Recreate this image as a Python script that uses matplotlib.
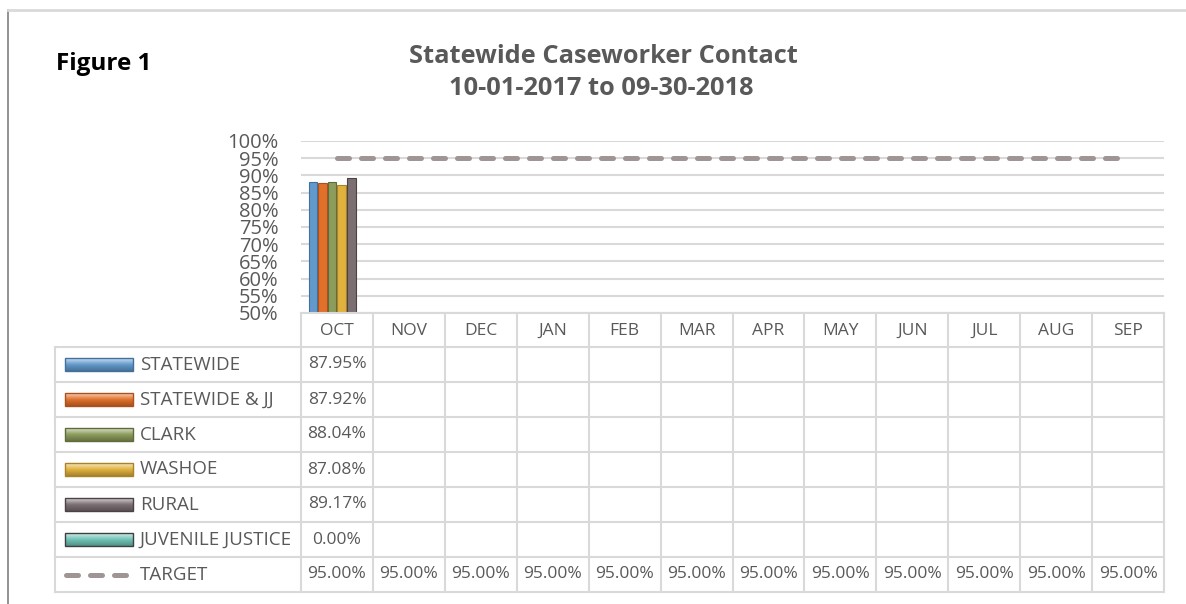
import numpy as np
import matplotlib.pyplot as plt
from matplotlib.patches import Rectangle
from matplotlib.colors import to_rgb

W, H = 1186, 604
FONT = 'Open Sans'
TXT = '#595959'
GRID = '#D9D9D9'

months = ['OCT', 'NOV', 'DEC', 'JAN', 'FEB', 'MAR',
          'APR', 'MAY', 'JUN', 'JUL', 'AUG', 'SEP']
series_names = ['STATEWIDE', 'STATEWIDE & JJ', 'CLARK', 'WASHOE',
                'RURAL', 'JUVENILE JUSTICE']
nan = np.nan
statewide = [0.8795, nan, nan, nan, nan, nan, nan, nan, nan, nan, nan, nan]
statewide_jj = [0.8792, nan, nan, nan, nan, nan, nan, nan, nan, nan, nan, nan]
clark = [0.8804, nan, nan, nan, nan, nan, nan, nan, nan, nan, nan, nan]
washoe = [0.8708, nan, nan, nan, nan, nan, nan, nan, nan, nan, nan, nan]
rural = [0.8917, nan, nan, nan, nan, nan, nan, nan, nan, nan, nan, nan]
juvenile = [0.0, nan, nan, nan, nan, nan, nan, nan, nan, nan, nan, nan]
target = [0.95, 0.95, 0.95, 0.95, 0.95, 0.95,
          0.95, 0.95, 0.95, 0.95, 0.95, 0.95]

series = [statewide, statewide_jj, clark, washoe, rural, juvenile]
colors = ['#6399CB', '#E1702B', '#8C9C5C', '#E1B13D', '#7B6F72', '#6FC3B5']
edges = ['#41719C', '#A9521E', '#5F6B3A', '#A9832A', '#4A4244', '#3F3F3F']
target_color = '#A09595'

plt.rcParams['font.family'] = FONT
fig = plt.figure(figsize=(W / 100, H / 100), dpi=100)

# ---- chart area (pixel box 301..1164 x 141..313)
ax = fig.add_axes([301 / W, 1 - 313 / H, 863 / W, 172 / H])
x = np.arange(len(months))
ax.set_xlim(-0.5, len(months) - 0.5)
ax.set_ylim(0.5, 1.0)
yt = np.arange(0.5, 1.001, 0.05)
ax.set_yticks(yt)
ax.set_yticklabels([f'{int(round(v * 100))}%' for v in yt],
                   fontsize=14.5, color=TXT)
ax.set_xticks([])
ax.tick_params(axis='y', length=0, pad=16)
ax.yaxis.grid(True, color=GRID, lw=1.5)
ax.set_axisbelow(True)
for s in ax.spines.values():
    s.set_visible(False)

n = len(series)
bw = 0.8 / n
for i, vals in enumerate(series):
    v = np.array(vals, dtype=float)
    ok = ~np.isnan(v)
    ax.bar(x[ok] + (i - (n - 1) / 2) * bw, v[ok], bw * 0.9,
           color=colors[i], edgecolor=edges[i], lw=0.8, zorder=3)

ax.plot(x, target, color=target_color, lw=3.6, dashes=(2.4, 2.4),
        dash_capstyle='round', zorder=4)

# ---- data table + frame, drawn in pixel coordinates
tab = fig.add_axes([0, 0, 1, 1])
tab.set_xlim(0, W)
tab.set_ylim(H, 0)
tab.axis('off')

col_edges = np.linspace(301, 1164, len(months) + 1)
col_mid = (col_edges[:-1] + col_edges[1:]) / 2
row_edges = [347 + 35 * k for k in range(len(series) + 2)]
row_mid = [(row_edges[k] + row_edges[k + 1]) / 2 for k in range(len(row_edges) - 1)]

tab.plot([301, 1164], [313, 313], color=GRID, lw=1.5)
for yy in row_edges:
    tab.plot([55, 1164], [yy, yy], color=GRID, lw=1.5)
tab.plot([55, 55], [row_edges[0], row_edges[-1]], color=GRID, lw=1.5)
for xx in col_edges:
    tab.plot([xx, xx], [313, row_edges[-1]], color=GRID, lw=1.5)

for cx, m in zip(col_mid, months):
    tab.text(cx, 331, m, ha='center', va='center', fontsize=12.5, color=TXT)

rows = series + [target]
names = series_names + ['TARGET']
for r, (name, vals) in enumerate(zip(names, rows)):
    yc = row_mid[r]
    tab.text(140, yc, name, ha='left', va='center', fontsize=13.5, color=TXT)
    for cx, v in zip(col_mid, vals):
        if not np.isnan(v):
            tab.text(cx, yc, f'{v * 100:.2f}%', ha='center', va='center',
                     fontsize=12.5, color=TXT)
    if r < len(series):
        base = np.array(to_rgb(colors[r]))
        t = np.linspace(0, 1, 14)[:, None]
        light = base + (1 - base) * 0.65
        dark = base * 0.75
        grad = np.where(t < 0.5, light + (base - light) * (t / 0.5),
                        base + (dark - base) * ((t - 0.5) / 0.5))
        tab.imshow(grad[:, None, :], extent=(65, 133, yc + 6.5, yc - 6.5),
                   origin='upper', aspect='auto', zorder=2)
        tab.add_patch(Rectangle((65, yc - 6.5), 68, 13, fill=False,
                                edgecolor=edges[r], lw=1.0, zorder=3))
    else:
        tab.plot([65.5, 127.5], [yc, yc], color=target_color, lw=3.6,
                 dashes=(2.4, 2.4), dash_capstyle='round')

tab.set_xlim(0, W)
tab.set_ylim(H, 0)

# frame lines
tab.plot([8, 8], [10, H], color='#7F7F7F', lw=1.2)
tab.plot([8, W], [10, 10], color=GRID, lw=2)

# titles
tab.text(603, 63, 'Statewide Caseworker Contact', ha='center', va='baseline',
         fontsize=18.3, weight='bold', color=TXT)
tab.text(601, 95, '10-01-2017 to 09-30-2018', ha='center', va='baseline',
         fontsize=18.3, weight='bold', color=TXT)
tab.text(56, 70, 'Figure 1', ha='left', va='baseline', fontsize=17.5,
         weight='bold', color='black')

fig.savefig('out.png', dpi=100)
